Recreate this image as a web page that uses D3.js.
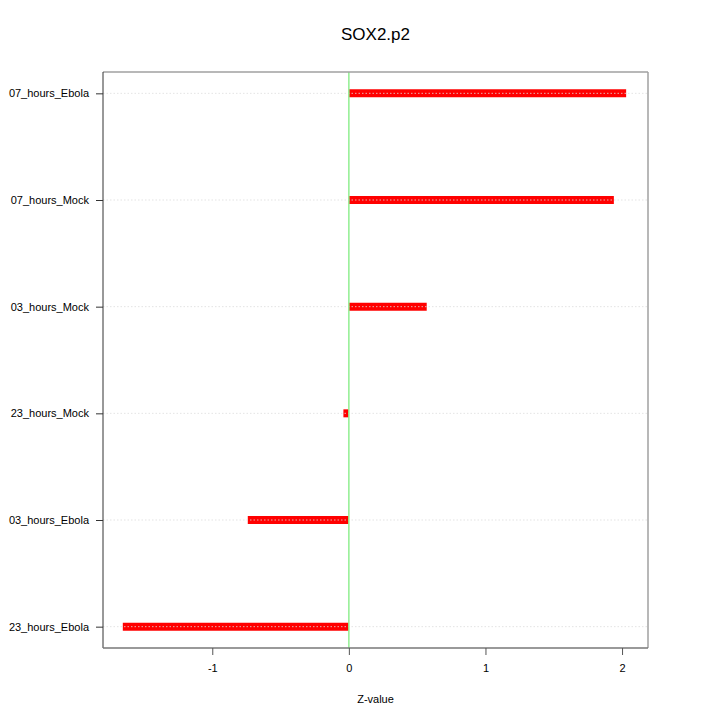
<!DOCTYPE html>
<html>
<head>
<meta charset="utf-8">
<script src="https://cdn.jsdelivr.net/npm/d3@7"></script>
<style>
  body { margin: 0; background: #fff; }
  text { font-family: "Liberation Sans", Arial, sans-serif; }
</style>
</head>
<body>
<div id="chart"></div>
<script>
// categories listed bottom to top
const categories = ["23_hours_Ebola", "03_hours_Ebola", "23_hours_Mock", "03_hours_Mock", "07_hours_Mock", "07_hours_Ebola"];
const zValues = [-1.655, -0.74, -0.04, 0.57, 1.94, 2.03];
const xTicks = [-1, 0, 1, 2];

const width = 720, height = 720;
const margin = { top: 72, left: 103, right: 72, bottom: 72 };

const x = d3.scaleLinear().domain([-1.80, 2.19]).range([margin.left, width - margin.right]);
const y = d3.scaleLinear().domain([0.8, 6.2]).range([height - margin.bottom, margin.top]);

const svg = d3.select("#chart").append("svg")
  .attr("width", width)
  .attr("height", height);

// title
svg.append("text")
  .attr("x", (margin.left + width - margin.right) / 2)
  .attr("y", 40)
  .attr("text-anchor", "middle")
  .style("font-size", "17px")
  .text("SOX2.p2");

// bars
svg.selectAll(".bar")
  .data(zValues)
  .enter().append("line")
  .attr("class", "bar")
  .attr("x1", x(0))
  .attr("x2", d => x(d))
  .attr("y1", (d, i) => y(i + 1))
  .attr("y2", (d, i) => y(i + 1))
  .attr("stroke", "#ff0000")
  .attr("stroke-width", 8);

// grid lines over bars
svg.selectAll(".grid")
  .data(categories)
  .enter().append("line")
  .attr("class", "grid")
  .attr("x1", margin.left)
  .attr("x2", width - margin.right)
  .attr("y1", (d, i) => y(i + 1))
  .attr("y2", (d, i) => y(i + 1))
  .attr("stroke", "#dcdcdc")
  .attr("stroke-width", 0.8)
  .attr("stroke-dasharray", "1.5,2");

// zero line
svg.append("line")
  .attr("x1", x(0)).attr("x2", x(0))
  .attr("y1", margin.top).attr("y2", height - margin.bottom)
  .attr("stroke", "#90ee90")
  .attr("stroke-width", 1.5);

// box
const x0 = margin.left, x1 = width - margin.right, y0 = margin.top, y1 = height - margin.bottom;
svg.append("line").attr("x1", x0).attr("x2", x1).attr("y1", y0).attr("y2", y0).attr("stroke", "#a0a0a0").attr("stroke-width", 1.5);
svg.append("line").attr("x1", x1).attr("x2", x1).attr("y1", y0).attr("y2", y1).attr("stroke", "#a0a0a0").attr("stroke-width", 1.5);
svg.append("line").attr("x1", x0).attr("x2", x0).attr("y1", y0).attr("y2", y1).attr("stroke", "#333").attr("stroke-width", 1);
svg.append("line").attr("x1", x0).attr("x2", x1).attr("y1", y1).attr("y2", y1).attr("stroke", "#777").attr("stroke-width", 1.5);

// x axis
const xAxis = d3.axisBottom(x).tickValues(xTicks).tickSize(7).tickPadding(9).tickFormat(d => String(d));
const gx = svg.append("g")
  .attr("transform", "translate(0," + y1 + ")")
  .call(xAxis);
gx.select(".domain").remove();
gx.selectAll(".tick line").attr("stroke", "#555");
gx.selectAll("text").style("font-size", "11px").attr("fill", "#000");

// y axis
const yAxis = d3.axisLeft(y).tickValues(d3.range(1, categories.length + 1))
  .tickFormat(d => categories[d - 1]).tickSize(7).tickPadding(7);
const gy = svg.append("g")
  .attr("transform", "translate(" + x0 + ",0)")
  .call(yAxis);
gy.select(".domain").remove();
gy.selectAll(".tick line").attr("stroke", "#333");
gy.selectAll("text").style("font-size", "11px").attr("fill", "#000");

// x label
svg.append("text")
  .attr("x", (x0 + x1) / 2)
  .attr("y", 703)
  .attr("text-anchor", "middle")
  .style("font-size", "11px")
  .text("Z-value");
</script>
</body>
</html>
